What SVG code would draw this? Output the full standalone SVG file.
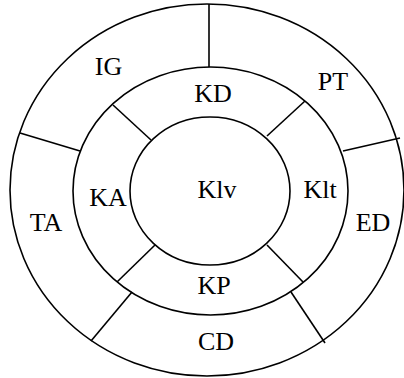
<svg xmlns="http://www.w3.org/2000/svg" width="404" height="378" viewBox="0 0 404 378">
<style>
.r{fill:none;stroke:#000;stroke-width:1.6}
.l{stroke:#000;stroke-width:1.6}
text{font-family:"Liberation Serif","Times New Roman",serif;font-size:26px;text-anchor:middle;fill:#000}
</style>
<rect width="404" height="378" fill="#fff"/>
<g id="rings">
<ellipse class="r" cx="207" cy="190" rx="197" ry="186"/>
<ellipse class="r" cx="210.5" cy="191" rx="137.5" ry="124"/>
<ellipse class="r" cx="210" cy="191" rx="80" ry="74"/>
</g>
<g id="connectors">
<line class="l" x1="209" y1="4" x2="209" y2="67"/>
<line class="l" x1="20" y1="133" x2="80" y2="151"/>
<line class="l" x1="400" y1="138" x2="343" y2="151"/>
<line class="l" x1="91" y1="341" x2="132" y2="292"/>
<line class="l" x1="325" y1="343" x2="291" y2="292"/>
<line class="l" x1="113" y1="105" x2="151" y2="140"/>
<line class="l" x1="305" y1="101" x2="267" y2="136"/>
<line class="l" x1="117" y1="282" x2="155" y2="245"/>
<line class="l" x1="303" y1="282" x2="267" y2="245"/>
</g>
<g id="IG"><text x="108.5" y="75">IG</text></g>
<g id="PT"><text x="333" y="90">PT</text></g>
<g id="KD"><text x="213" y="102">KD</text></g>
<g id="KA"><text x="108" y="206">KA</text></g>
<g id="Klv"><text x="217" y="198">Klv</text></g>
<g id="Klt"><text x="320" y="198">Klt</text></g>
<g id="TA"><text x="46" y="231">TA</text></g>
<g id="ED"><text x="373" y="231">ED</text></g>
<g id="KP"><text x="214" y="294">KP</text></g>
<g id="CD"><text x="216" y="350">CD</text></g>
</svg>
